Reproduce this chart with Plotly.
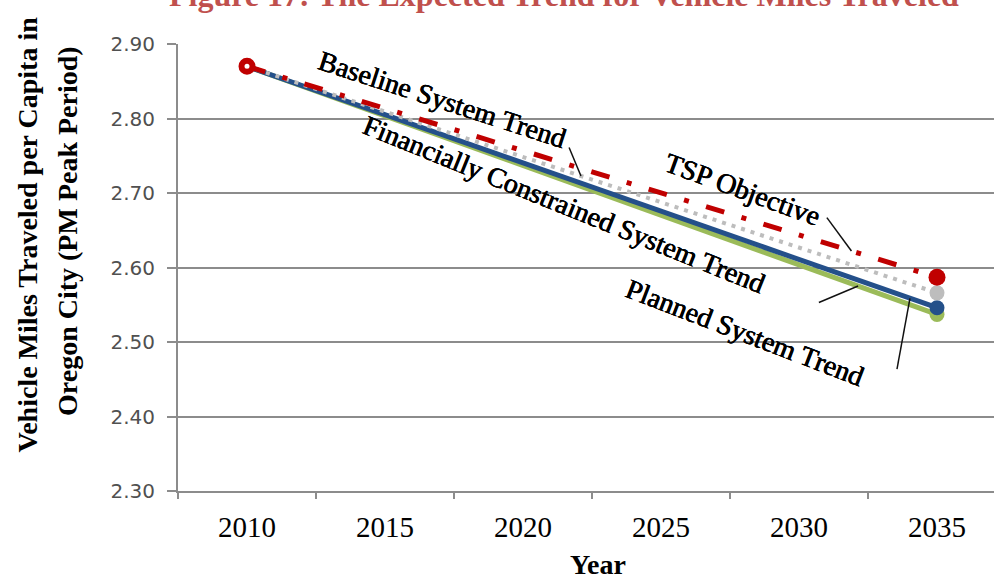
import plotly.graph_objects as go

# ---- data -------------------------------------------------------------
years = [2010, 2035]
tsp_objective = [2.87, 2.587]
baseline_trend = [2.87, 2.566]
planned_trend = [2.87, 2.546]
fin_constrained_trend = [2.87, 2.537]

tick_years = [2010, 2015, 2020, 2025, 2030, 2035]
tick_labels = ["2010", "2015", "2020", "2025", "2030", "2035"]
y_ticks = [2.30, 2.40, 2.50, 2.60, 2.70, 2.80, 2.90]

TITLE = "Figure 17: The Expected Trend for Vehicle Miles Traveled"
Y_TITLE_1 = "Vehicle Miles Traveled per Capita in"
Y_TITLE_2 = "Oregon City (PM Peak Period)"

# ---- styling ----------------------------------------------------------
RED = "#c00000"
GREY = "#bdbdbd"
BLUE = "#24508a"
GREEN = "#9bbb59"
AXIS_GREY = "#8c8c8c"
SERIF = "Liberation Serif"

W, H = 994, 581
M_L, M_R, M_T, M_B = 178, 0, 44, 90
PX_PER_YEAR = 27.6
x_lo = tick_years[0] - 2.5
x_hi = x_lo + (W - M_L - M_R) / PX_PER_YEAR


def value_at(series, year):
    """Value of a two-point trend line at a given year."""
    t = (year - years[0]) / (years[-1] - years[0])
    return series[0] + (series[-1] - series[0]) * t


fig = go.Figure()


def end_marker(color, size=15):
    return dict(size=[0, size], color=color, opacity=1, line=dict(width=0))


fig.add_trace(go.Scatter(
    x=years, y=fin_constrained_trend, name="Financially Constrained System Trend",
    mode="lines+markers", line=dict(color=GREEN, width=5),
    marker=end_marker(GREEN)))
fig.add_trace(go.Scatter(
    x=years, y=planned_trend, name="Planned System Trend",
    mode="lines+markers", line=dict(color=BLUE, width=5),
    marker=end_marker(BLUE)))
fig.add_trace(go.Scatter(
    x=years, y=baseline_trend, name="Baseline System Trend",
    mode="lines+markers", line=dict(color=GREY, width=4, dash="4px,6px"),
    marker=end_marker(GREY)))
fig.add_trace(go.Scatter(
    x=years, y=tsp_objective, name="TSP Objective",
    mode="lines+markers", line=dict(color=RED, width=5, dash="19px,18px,5px,18px"),
    marker=dict(size=[11, 17], color=["white", RED], opacity=1,
                line=dict(width=[6, 0], color=RED))))

# ---- rotated series labels with leader lines ----------------------------
labels = [
    # text, centre x, centre y, angle
    ("Baseline System Trend", 2017.07, 2.825, 18),
    ("Financially Constrained System Trend", 2021.49, 2.6845, 22),
    ("TSP Objective", 2027.97, 2.7046, 20),
    ("Planned System Trend", 2028.04, 2.5131, 21),
]
for text, cx, cy, ang in labels:
    fig.add_annotation(x=cx, y=cy, xref="x", yref="y", text=text,
                       textangle=ang, showarrow=False,
                       xanchor="center", yanchor="middle",
                       font=dict(family=SERIF, size=28, color="#000000",
                                 shadow="0.5px 0 0 #000, -0.3px 0 0 #000"))

leaders = [
    # label end (x, y), series, year where the leader meets the series
    ((2021.67, 2.761), baseline_trend, 2022.1),
    ((2031.01, 2.667), tsp_objective, 2031.9),
    ((2030.72, 2.553), fin_constrained_trend, 2032.14),
    ((2033.55, 2.4636), planned_trend, 2034.02),
]
for (lx, ly), series, yr in leaders:
    fig.add_shape(type="line", xref="x", yref="y",
                  x0=lx, y0=ly, x1=yr, y1=value_at(series, yr),
                  line=dict(color="#111111", width=1.5))

# ---- titles -------------------------------------------------------------
plot_w = W - M_L - M_R
plot_h = H - M_T - M_B


def px_x(px):
    return (px - M_L) / plot_w


def px_y(py):
    return 1 - (py - M_T) / plot_h


fig.add_annotation(x=px_x(564), y=px_y(-5), xref="paper", yref="paper",
                   text=TITLE, showarrow=False, xanchor="center",
                   yanchor="middle",
                   font=dict(family=SERIF, size=32, color="#c0504d",
                             weight="bold"))
fig.add_annotation(x=px_x(27), y=px_y(234.5), xref="paper", yref="paper",
                   text=Y_TITLE_1, textangle=-90, showarrow=False,
                   xanchor="center", yanchor="middle",
                   font=dict(family=SERIF, size=28, color="black",
                             weight="bold"))
fig.add_annotation(x=px_x(67), y=px_y(231), xref="paper", yref="paper",
                   text=Y_TITLE_2, textangle=-90, showarrow=False,
                   xanchor="center", yanchor="middle",
                   font=dict(family=SERIF, size=28, color="black",
                             weight="bold"))
fig.add_annotation(x=px_x(598), y=px_y(564), xref="paper", yref="paper",
                   text="Year", showarrow=False,
                   xanchor="center", yanchor="middle",
                   font=dict(family=SERIF, size=28, color="black",
                             weight="bold"))

# ---- axes ---------------------------------------------------------------
fig.update_xaxes(
    range=[x_lo, x_hi], tickmode="array", tickvals=tick_years,
    ticktext=tick_labels, ticks="", ticklabelstandoff=9,
    tickfont=dict(family=SERIF, size=29, color="black"),
    showgrid=False, zeroline=False,
    showline=True, linecolor=AXIS_GREY, linewidth=2,
    minor=dict(tickmode="array", tickvals=[y - 2.5 for y in tick_years],
               ticks="outside", ticklen=6, tickwidth=2, tickcolor=AXIS_GREY,
               showgrid=False),
)
fig.update_yaxes(
    range=[y_ticks[0], y_ticks[-1]], tickmode="array", tickvals=y_ticks,
    ticktext=[f"{v:.2f}" for v in y_ticks], ticks="outside", ticklen=9,
    tickwidth=2, tickcolor=AXIS_GREY, ticklabelstandoff=8,
    tickfont=dict(family="DejaVu Sans", size=20, color="#505050"),
    showgrid=True, gridcolor=AXIS_GREY, gridwidth=1.6, zeroline=False,
    showline=True, linecolor=AXIS_GREY, linewidth=2,
)

fig.update_layout(
    width=W, height=H,
    margin=dict(l=M_L, r=M_R, t=M_T, b=M_B, autoexpand=False),
    plot_bgcolor="white", paper_bgcolor="white",
    showlegend=False,
)

fig.write_html("out.html")
